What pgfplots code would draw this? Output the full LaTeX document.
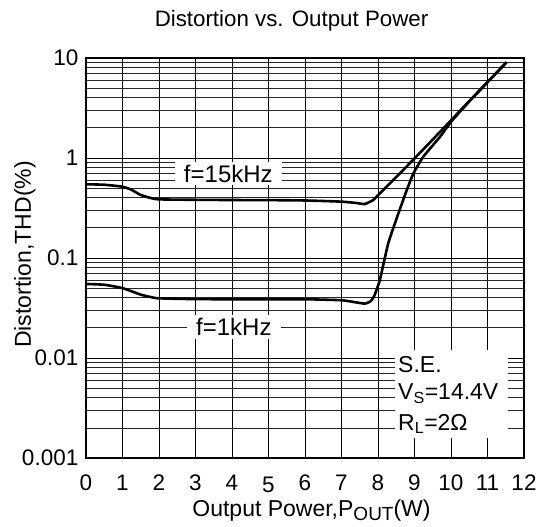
\documentclass[border=0pt]{standalone}
\usepackage{fontspec}
\setmainfont{Liberation Sans}
\usepackage{pgfplots}
\pgfplotsset{compat=1.18}
\begin{document}
\begin{tikzpicture}[font=\fontsize{23bp}{27bp}\selectfont]
\begin{axis}[
  at={(0,0)}, anchor=south west,
  width=438bp, height=400bp, scale only axis,
  xmin=0, xmax=12, ymin=0.001, ymax=10, ymode=log,
  xtick={0,...,12},
  xticklabels={0,1,2,3,4,\raisebox{-2bp}{5},6,7,8,9,10,11,12},
  ytick={0.001,0.01,0.1,1,10},
  yticklabels={0.001,0.01,0.1,1,10},
  xmajorgrids, ymajorgrids, yminorgrids,
  major grid style={black, line width=0.9bp},
  minor grid style={black!85, line width=0.8bp},
  major tick length=0pt, minor tick length=0pt,
  axis line style={line width=1.6bp},
  tick label style={font=\fontsize{22.5bp}{26bp}\selectfont},
  xticklabel style={anchor=base, yshift=-32bp},
  yticklabel style={anchor=east, inner sep=0pt, xshift=-7.5bp},
  /pgf/number format/assume math mode=true,
]
% f = 15 kHz
\addplot[black, line width=2.6bp, smooth, tension=0.35] coordinates {
(0,0.546) (0.5,0.54) (1.0,0.516) (1.25,0.48) (1.48,0.43) (1.75,0.40) (2.0,0.386)
(3,0.382) (4,0.38) (5,0.379) (6,0.376) (7,0.366) (7.4,0.355) (7.64,0.347)
(7.87,0.38) (7.96,0.41) (8.5,0.645) (9.0,0.99) (9.5,1.53) (10,2.38)
(10.5,3.70) (11,5.74) (11.52,9.05)
};
% f = 1 kHz
\addplot[black, line width=2.6bp, smooth, tension=0.3] coordinates {
(0,0.055) (0.5,0.054) (1.0,0.050) (1.5,0.043) (1.8,0.0405) (2.0,0.0395)
(3,0.0388) (4,0.0387) (5,0.0387) (6,0.0387) (7,0.0378) (7.4,0.036) (7.64,0.035)
(7.8,0.037) (7.9,0.042) (8.05,0.06) (8.28,0.14) (8.56,0.28) (8.79,0.48)
(8.97,0.70) (9.24,1.03) (9.7,1.63) (10,2.3) (10.5,3.68) (11,5.72) (11.52,9.05)
};
\node[fill=white, inner xsep=9bp, inner ysep=3bp, font=\fontsize{24bp}{28bp}\selectfont] at (axis cs:3.9,0.70) {f=15kHz};
\node[fill=white, inner xsep=9bp, inner ysep=3bp, font=\fontsize{24bp}{28bp}\selectfont] at (axis cs:4.05,0.0204) {f=1kHz};
\end{axis}
% S.E. box
\fill[white] (309bp,20bp) rectangle (422bp,108bp);
\node[anchor=base west, inner sep=0pt] at (312bp,85bp) {S.E.};
\node[anchor=base west, inner sep=0pt] at (312bp,58bp) {V\textsubscript{S}=14.4V};
\node[anchor=base west, inner sep=0pt] at (312bp,28bp) {R\textsubscript{L}=2Ω};
% title and labels
\node[anchor=base, font=\fontsize{22.3bp}{26bp}\selectfont] at (205.5bp,431bp) {Distortion vs. Output Power};
\node[anchor=base] at (225.5bp,-58bp) {Output Power,P{\fontsize{19bp}{22bp}\selectfont\raisebox{-4bp}{OUT}}(W)};
\node[anchor=base, rotate=90] at (-55bp,203.5bp) {Distortion,THD(\%)};
\pgfresetboundingbox
\path[use as bounding box] (-86bp,-69bp) rectangle (454bp,458bp);
\end{tikzpicture}
\end{document}
